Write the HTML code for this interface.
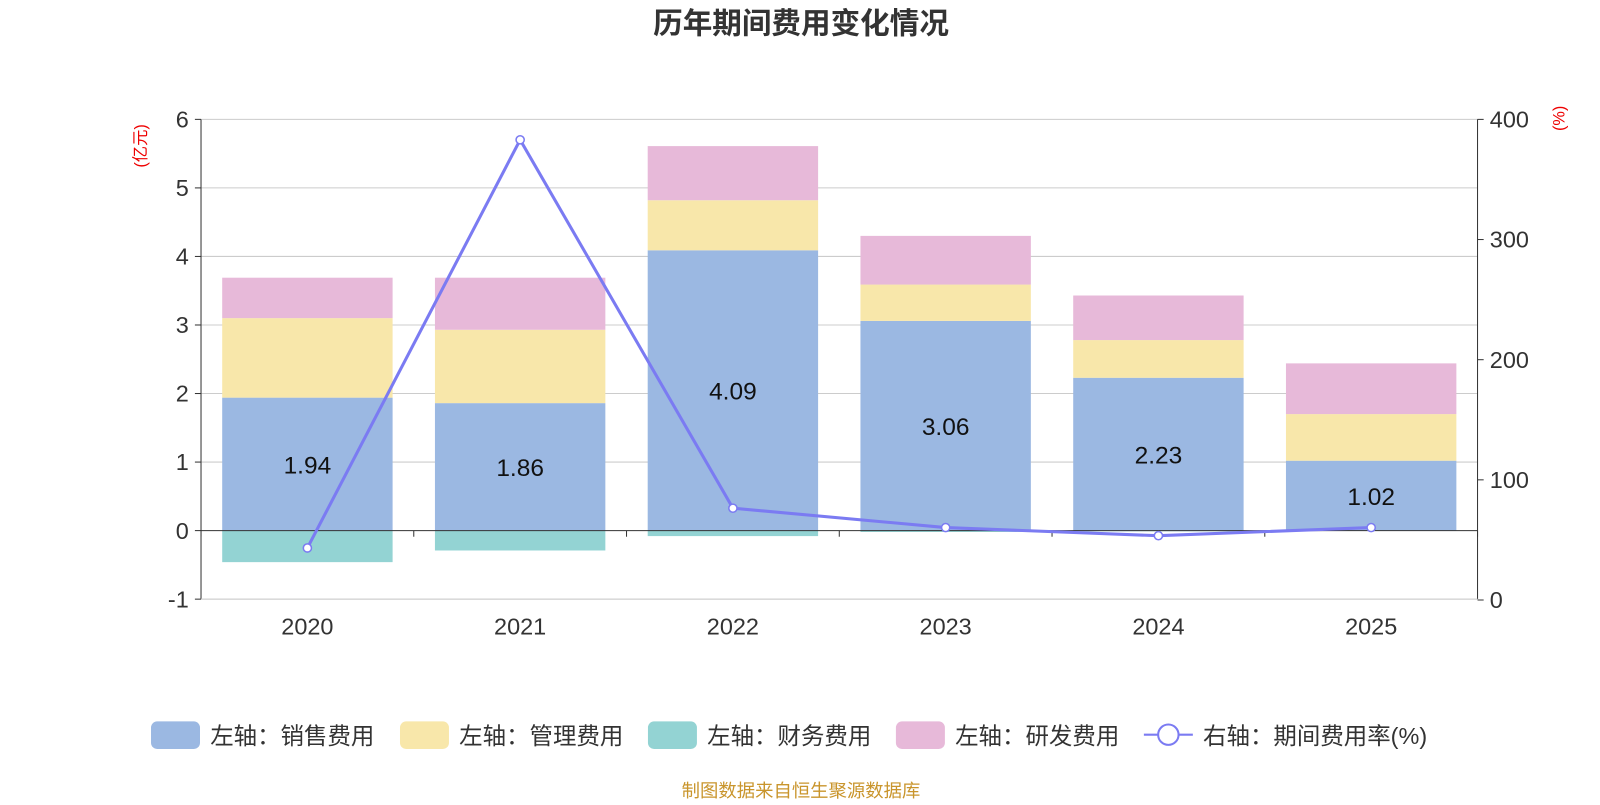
<!DOCTYPE html>
<html><head><meta charset="utf-8">
<style>
body{margin:0;background:#fff;font-family:"Liberation Sans","Noto Sans CJK SC",sans-serif;}
svg text{font-family:"Liberation Sans","Noto Sans CJK SC",sans-serif;}
</style></head>
<body>
<svg id="c" width="1600" height="800" xmlns="http://www.w3.org/2000/svg">
<g transform="scale(1.0204)">
<text x="785" y="33" text-anchor="middle" font-size="29" font-weight="bold" fill="#333">历年期间费用变化情况</text>
<text transform="translate(143,143) rotate(-90)" text-anchor="middle" font-size="16" fill="#e00">(亿元)</text>
<text transform="translate(1533,116) rotate(-90)" text-anchor="middle" font-size="16" fill="#e00">(%)</text>
<g id="grid"></g><g id="bars"></g><g id="axes"></g><g id="line"></g>
<g font-size="23" fill="#333">
<rect x="148" y="707" width="48" height="27" rx="6" fill="#9bb8e2"/>
<text x="206" y="729">左轴：销售费用</text>
<rect x="392" y="707" width="48" height="27" rx="6" fill="#f8e7aa"/>
<text x="450" y="729">左轴：管理费用</text>
<rect x="635" y="707" width="48" height="27" rx="6" fill="#93d3d3"/>
<text x="693" y="729">左轴：财务费用</text>
<rect x="878" y="707" width="48" height="27" rx="6" fill="#e7b9d9"/>
<text x="936" y="729">左轴：研发费用</text>
<line x1="1121" y1="720" x2="1169" y2="720" stroke="#7b7bf2" stroke-width="2"/>
<circle cx="1145" cy="720" r="10" fill="#fff" stroke="#7b7bf2" stroke-width="2"/>
<text x="1179" y="729">右轴：期间费用率(%)</text>
</g>
<text x="785" y="781" text-anchor="middle" font-size="18" fill="#c9952c">制图数据来自恒生聚源数据库</text>
</g>
</svg>
<script>
const categories=['2020','2021','2022','2023','2024','2025'];
const sales=[1.94,1.86,4.09,3.06,2.23,1.02];
const admin=[1.16,1.07,0.73,0.53,0.55,0.68];
const finance=[-0.46,-0.29,-0.08,-0.02,-0.01,0];
const rd=[0.59,0.76,0.79,0.71,0.65,0.74];
const rate=[43.3,383,76.4,60.3,53.5,60.3];
const leftTicks=[-1,0,1,2,3,4,5,6];
const rightTicks=[0,100,200,300,400];
const NS='http://www.w3.org/2000/svg';
const X0=197,X1=1448,step=(X1-X0)/categories.length,bw=167;
const yL=v=>520-v*67.17;
const yR=v=>588-v*1.1775;
const xC=i=>X0+step*(i+0.5);
function mk(parent,tag,attrs){const e=document.createElementNS(NS,tag);for(const k in attrs)e.setAttribute(k,attrs[k]);document.getElementById(parent).appendChild(e);return e;}
leftTicks.forEach(t=>{
 if(t!==0){const l=mk('grid','line',{x1:X0,x2:X1,y1:yL(t),y2:yL(t),stroke:'#ccc','stroke-width':1});
 
 }
 mk('axes','line',{x1:X0-6,x2:X0,y1:yL(t),y2:yL(t),stroke:'#333'});
 const tx=mk('axes','text',{x:X0-12,y:yL(t)+8,'text-anchor':'end','font-size':23,fill:'#333'});tx.textContent=t;
 
 
});
rightTicks.forEach(t=>{
 mk('axes','line',{x1:X1,x2:X1+6,y1:yR(t),y2:yR(t),stroke:'#333'});
 const tx=mk('axes','text',{x:X1+12,y:yR(t)+8,'font-size':23,fill:'#333'});tx.textContent=t;
 
 
});
mk('axes','line',{x1:X0,x2:X0,y1:yL(6),y2:yL(-1),stroke:'#333'});
mk('axes','line',{x1:X1,x2:X1,y1:yL(6),y2:yL(-1),stroke:'#333'});
categories.forEach((c,i)=>{
 const x=xC(i)-bw/2;
 const segs=[[0,sales[i],'#9bb8e2','bar-sales-'+c],[sales[i],sales[i]+admin[i],'#f8e7aa','bar-admin-'+c],[sales[i]+admin[i],sales[i]+admin[i]+rd[i],'#e7b9d9','bar-rd-'+c],[finance[i],0,'#93d3d3','bar-finance-'+c]];
 segs.forEach(s=>{const r=mk('bars','rect',{x:x,y:yL(Math.max(s[0],s[1])),width:bw,height:Math.abs(yL(s[0])-yL(s[1])),fill:s[2]});
 
 });
 const lb=mk('bars','text',{x:xC(i),y:yL(sales[i]/2)+9,'text-anchor':'middle','font-size':24,fill:'#111'});lb.textContent=sales[i].toFixed(2);
 
 
 const tl=mk('axes','text',{x:xC(i),y:622,'text-anchor':'middle','font-size':23,fill:'#333'});tl.textContent=c;
 
 
});
mk('axes','line',{x1:X0,x2:X1,y1:yL(0),y2:yL(0),stroke:'#333'});
mk('axes','line',{x1:X0,x2:X1,y1:yL(-1),y2:yL(-1),stroke:'#ccc'});
for(let i=0;i<=categories.length;i++){mk('axes','line',{x1:X0+step*i,x2:X0+step*i,y1:yL(0),y2:yL(0)+6,stroke:'#333'});}
const pts=rate.map((v,i)=>xC(i)+','+yR(v)).join(' ');
const pl=mk('line','polyline',{points:pts,fill:'none',stroke:'#7b7bf2','stroke-width':3});


rate.forEach((v,i)=>{const p=mk('line','circle',{cx:xC(i),cy:yR(v),r:4,fill:'#fff',stroke:'#7b7bf2','stroke-width':1.5});
 
 });
</script>
</body></html>
